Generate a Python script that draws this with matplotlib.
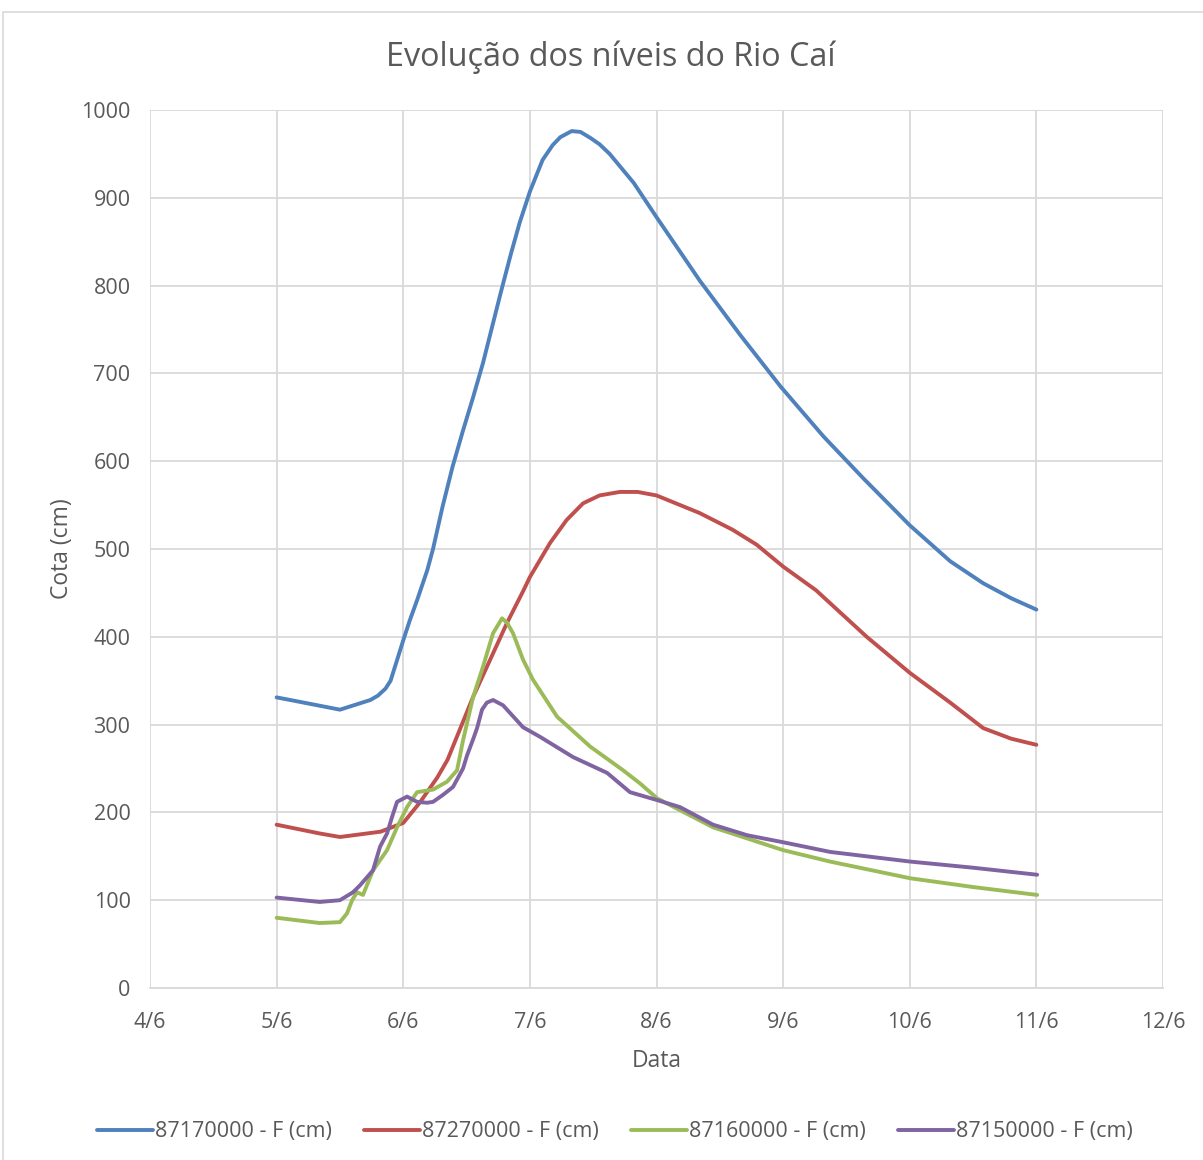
import matplotlib
matplotlib.use("Agg")
import matplotlib.pyplot as plt
from matplotlib.patches import Rectangle

plt.rcParams['font.family'] = ['Open Sans', 'DejaVu Sans']

# Day of June (fractional) and river level in cm for each gauge
days_87170000 = [5.00, 5.18, 5.50, 5.74, 5.80, 5.86, 5.90, 5.95, 6.00, 6.05, 6.11,
                 6.19, 6.235, 6.31, 6.39, 6.47, 6.55, 6.63, 6.70, 6.77, 6.85, 6.92,
                 7.00, 7.10, 7.18, 7.24, 7.33, 7.40, 7.48, 7.55, 7.63, 7.82, 8.00,
                 8.34, 8.66, 8.98, 9.32, 9.63, 10.00, 10.32, 10.58, 10.80, 11.00]
cm_87170000 = [331, 326, 317, 328, 333, 341, 350, 373, 396, 418, 442,
               476, 500, 548, 594, 634, 672, 712, 752, 792, 836, 872,
               907, 943, 960, 969, 976, 975, 968, 961, 950, 917, 878,
               806, 744, 685, 628, 581, 527, 486, 461, 444, 431]

days_87270000 = [5.00, 5.34, 5.50, 5.82, 6.00, 6.13, 6.27, 6.35, 6.55, 6.82, 6.95,
                 7.00, 7.16, 7.29, 7.42, 7.55, 7.71, 7.85, 8.00, 8.34, 8.60, 8.79,
                 9.00, 9.26, 9.66, 10.00, 10.32, 10.58, 10.80, 11.00]
cm_87270000 = [186, 176, 172, 178, 188, 211, 240, 260, 331, 416, 453,
               468, 507, 533, 552, 561, 565, 565, 561, 541, 522, 505,
               480, 453, 400, 359, 325, 296, 284, 277]

days_87160000 = [5.00, 5.34, 5.50, 5.556, 5.596, 5.635, 5.682, 5.761, 5.872, 5.951,
                 6.030, 6.109, 6.235, 6.346, 6.425, 6.472, 6.551, 6.630, 6.709,
                 6.780, 6.820, 6.867, 6.946, 7.025, 7.215, 7.476, 7.736, 7.870,
                 8.005, 8.447, 9.000, 9.371, 10.003, 10.50, 11.006]
cm_87160000 = [80, 74, 75, 85, 100, 109, 106, 134, 157, 183,
               206, 223, 226, 235, 248, 282, 331, 366, 404,
               421, 416, 404, 374, 351, 309, 275, 248, 233,
               216, 183, 157, 144, 125, 115, 106]

days_87150000 = [5.00, 5.34, 5.50, 5.603, 5.659, 5.761, 5.817, 5.872, 5.912, 5.951,
                 6.030, 6.109, 6.188, 6.235, 6.314, 6.393, 6.472, 6.504, 6.551,
                 6.583, 6.622, 6.660, 6.709, 6.788, 6.946, 7.081, 7.341, 7.610,
                 7.791, 8.005, 8.186, 8.447, 8.716, 9.000, 9.371, 10.003, 10.50,
                 11.006]
cm_87150000 = [103, 98, 100, 109, 117, 134, 161, 176, 195, 212,
               218, 212, 211, 212, 220, 229, 250, 265, 283,
               296, 317, 325, 328, 322, 297, 286, 263, 245,
               223, 214, 206, 186, 174, 166, 155, 144, 137,
               129]

series = [
    ("87170000 - F (cm)", days_87170000, cm_87170000, "#4F81BD"),
    ("87270000 - F (cm)", days_87270000, cm_87270000, "#C0504D"),
    ("87160000 - F (cm)", days_87160000, cm_87160000, "#9BBB59"),
    ("87150000 - F (cm)", days_87150000, cm_87150000, "#8064A2"),
]

x_ticks = [4, 5, 6, 7, 8, 9, 10, 11, 12]
x_tick_labels = ["4/6", "5/6", "6/6", "7/6", "8/6", "9/6", "10/6", "11/6", "12/6"]
y_ticks = [0, 100, 200, 300, 400, 500, 600, 700, 800, 900, 1000]

text_color = "#595959"
grid_color = "#D9D9D9"

fig = plt.figure(figsize=(12.03, 11.60), dpi=100)
ax = fig.add_axes([150 / 1203, 1 - 988 / 1160, (1163 - 150) / 1203, (988 - 110) / 1160])

for label, d, v, c in series:
    ax.plot(d, v, color=c, lw=2.8, label=label, solid_capstyle="round",
            solid_joinstyle="round")

ax.set_xlim(4, 12)
ax.set_ylim(0, 1000)
ax.set_xticks(x_ticks)
ax.set_xticklabels(x_tick_labels)
ax.set_yticks(y_ticks)
ax.grid(True, color=grid_color, lw=1.3)
ax.set_axisbelow(True)
for side in ("left", "right", "top"):
    ax.spines[side].set_visible(False)
ax.spines["bottom"].set_color(grid_color)
ax.spines["bottom"].set_linewidth(1.3)
ax.tick_params(length=0, labelsize=15.5, labelcolor=text_color)
ax.tick_params(axis="x", pad=17)
ax.tick_params(axis="y", pad=14)

ax.set_xlabel("Data", fontsize=16.5, color=text_color, labelpad=12)
ax.set_ylabel("Cota (cm)", fontsize=16.5, color=text_color, labelpad=5)

fig.text(611 / 1203, 1 - 57 / 1160, "Evolução dos níveis do Rio Caí",
         ha="center", va="center", fontsize=23.3, color=text_color)

fig.legend(loc="center", bbox_to_anchor=(615 / 1203, 1 - 1132 / 1160), ncol=4,
           frameon=False, fontsize=15.5, handlelength=2.6, handletextpad=0.1,
           columnspacing=1.5, labelcolor=text_color)

# Chart-area border
fig.patches.append(Rectangle((3 / 1203, -0.01), 1.0, 1 - 12 / 1160 + 0.01,
                             transform=fig.transFigure, fill=False,
                             edgecolor="#D9D9D9", lw=1.2))

fig.savefig("out.png", dpi=100, facecolor="white")
